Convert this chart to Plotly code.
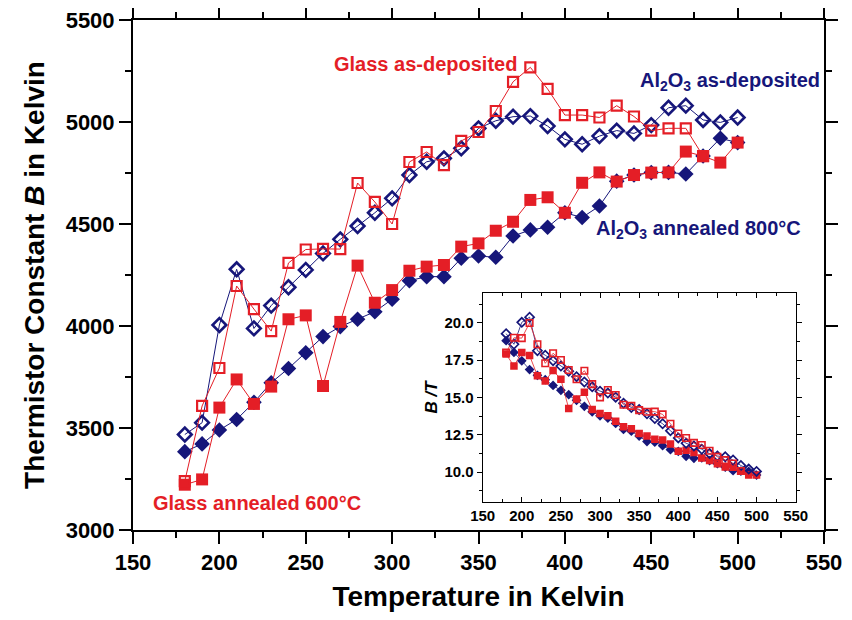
import plotly.graph_objects as go

# ---------------- data ----------------
temps_glass_dep = [180, 190, 200, 210, 220, 230, 240, 250, 260, 270, 280, 290, 300, 310, 320, 330,
                   340, 350, 360, 370, 380, 390, 400, 410, 420, 430, 440, 450, 460, 470, 480]
glass_dep = [3240, 3608, 3794, 4196, 4083, 3975, 4309, 4375, 4378, 4377, 4701, 4608, 4500, 4804, 4853, 4789,
             4907, 4951, 5054, 5197, 5268, 5162, 5034, 5034, 5022, 5080, 5027, 4958, 4969, 4969, 4833]

temps = [180, 190, 200, 210, 220, 230, 240, 250, 260, 270, 280, 290, 300, 310, 320, 330, 340,
         350, 360, 370, 380, 390, 400, 410, 420, 430, 440, 450, 460, 470, 480, 490, 500]
al_dep = [3468, 3526, 4005, 4278, 3988, 4100, 4190, 4275, 4356, 4425, 4490, 4555, 4626, 4740, 4805, 4822, 4871,
          4969, 5006, 5026, 5029, 4980, 4915, 4891, 4931, 4958, 4944, 4985, 5070, 5080, 5010, 4998, 5022]
glass_ann = [3222, 3248, 3600, 3738, 3618, 3703, 4033, 4052, 3706, 4020, 4296, 4114, 4176, 4271, 4291, 4299, 4389,
             4405, 4467, 4511, 4618, 4631, 4555, 4702, 4753, 4708, 4740, 4752, 4753, 4855, 4833, 4801, 4899]
al_ann = [3384, 3422, 3490, 3542, 3626, 3722, 3792, 3869, 3948, 3997, 4033, 4070, 4131, 4222, 4242, 4242, 4332,
          4343, 4337, 4441, 4471, 4484, 4555, 4532, 4588, 4710, 4740, 4752, 4753, 4745, 4833, 4920, 4899]

# inset: B / T
inset_glass_dep = [b / t for b, t in zip(glass_dep, temps_glass_dep)]
inset_al_dep = [b / t for b, t in zip(al_dep, temps)]
inset_glass_ann = [b / t for b, t in zip(glass_ann, temps)]
inset_al_ann = [b / t for b, t in zip(al_ann, temps)]

x_range = [150, 550]
y_range = [3000, 5500]
inset_y_range = [8, 22]

RED = "#E41E26"
NAVY = "#16167A"
FONT = "Liberation Sans, Arial, sans-serif"

fig = go.Figure()


def add_series(x, y, color, symbol, size, lw, xa, ya, mlw=0):
    fig.add_trace(go.Scatter(
        x=x, y=y, mode="lines+markers", xaxis=xa, yaxis=ya,
        line=dict(color=color, width=lw),
        marker=dict(symbol=symbol, size=size, color=color,
                    line=dict(color=color, width=mlw)),
        showlegend=False, hoverinfo="x+y"))


# main plot
add_series(temps, al_ann, NAVY, "diamond", 12, 1, "x", "y")
add_series(temps, glass_ann, RED, "square", 12, 1, "x", "y")
add_series(temps, al_dep, NAVY, "diamond-open", 10.5, 1, "x", "y", mlw=2.6)
add_series(temps_glass_dep, glass_dep, RED, "square-open", 10, 1, "x", "y", mlw=2.2)

# inset
add_series(temps, inset_al_ann, NAVY, "diamond", 7.5, 0.8, "x2", "y2")
add_series(temps, inset_glass_ann, RED, "square", 7.5, 0.8, "x2", "y2")
add_series(temps, inset_al_dep, NAVY, "diamond-open", 7, 0.8, "x2", "y2", mlw=1.7)
add_series(temps_glass_dep, inset_glass_dep, RED, "square-open", 6.5, 0.8, "x2", "y2", mlw=1.6)

fig.update_layout(
    width=836, height=604, autosize=False,
    margin=dict(l=125, r=20, t=12, b=82, pad=0),
    paper_bgcolor="white", plot_bgcolor="white",
    font=dict(family=FONT, color="black"),
    showlegend=False,
    xaxis=dict(showline=True, linecolor="black", linewidth=2, showgrid=False, zeroline=False,
               mirror="allticks", automargin=False, tickcolor="black", tickwidth=2,
               range=x_range, tick0=150, dtick=50, ticks="outside", ticklen=12,
               minor=dict(dtick=25, ticks="outside", ticklen=6, tickcolor="black", tickwidth=2),
               tickfont=dict(size=22, family=FONT, weight="bold"), ticklabeloverflow="allow",
               title=dict(text="<b>Temperature in Kelvin</b>", font=dict(size=28, family=FONT), standoff=14),
               domain=[0, 1], anchor="y"),
    yaxis=dict(showline=True, linecolor="black", linewidth=2, showgrid=False, zeroline=False,
               mirror="allticks", automargin=False, tickcolor="black", tickwidth=2,
               range=y_range, tick0=3000, dtick=500, ticks="outside", ticklen=12,
               minor=dict(dtick=250, ticks="outside", ticklen=6, tickcolor="black", tickwidth=2),
               tickfont=dict(size=22, family=FONT, weight="bold"), ticklabeloverflow="allow",
               title=dict(text="<b>Thermistor Constant <i>B</i> in Kelvin</b>", font=dict(size=28, family=FONT),
                          standoff=13),
               domain=[0, 1], anchor="x"),
    xaxis2=dict(showline=True, linecolor="black", linewidth=1, showgrid=False, zeroline=False,
                tickcolor="black", tickwidth=1, automargin=False,
                range=x_range, tick0=150, dtick=50, ticks="inside", ticklen=5, mirror="ticks",
                minor=dict(dtick=25, ticks="inside", ticklen=3, tickcolor="black", tickwidth=1),
                tickfont=dict(size=15, family=FONT, weight="bold"),
                domain=[0.506, 0.959], anchor="y2"),
    yaxis2=dict(showline=True, linecolor="black", linewidth=1, showgrid=False, zeroline=False,
                tickcolor="black", tickwidth=1, automargin=False, mirror="allticks",
                range=inset_y_range, tick0=10, dtick=2.5, ticks="outside", ticklen=5, tickformat=".1f",
                minor=dict(dtick=1.25, ticks="outside", ticklen=3, tickcolor="black", tickwidth=1),
                tickfont=dict(size=15, family=FONT, weight="bold"),
                title=dict(text="<b><i>B /T</i></b>", font=dict(size=17, family=FONT), standoff=2),
                domain=[0.055, 0.465], anchor="x2"),
)

ann_font = dict(family=FONT, size=20)
fig.add_annotation(x=265, y=5284, xref="x", yref="y", text="<b>Glass as-deposited</b>",
                   font=dict(**ann_font, color=RED), showarrow=False, xanchor="left", yanchor="middle")
fig.add_annotation(x=442.5, y=5200, xref="x", yref="y", text="<b>Al<sub>2</sub>O<sub>3</sub> as-deposited</b>",
                   font=dict(**ann_font, color=NAVY), showarrow=False, xanchor="left", yanchor="middle")
fig.add_annotation(x=417, y=4474, xref="x", yref="y", text="<b>Al<sub>2</sub>O<sub>3</sub> annealed 800°C</b>",
                   font=dict(**ann_font, color=NAVY), showarrow=False, xanchor="left", yanchor="middle")
fig.add_annotation(x=160.5, y=3132, xref="x", yref="y", text="<b>Glass annealed 600°C</b>",
                   font=dict(**ann_font, color=RED), showarrow=False, xanchor="left", yanchor="middle")

fig.write_html("out.html")
